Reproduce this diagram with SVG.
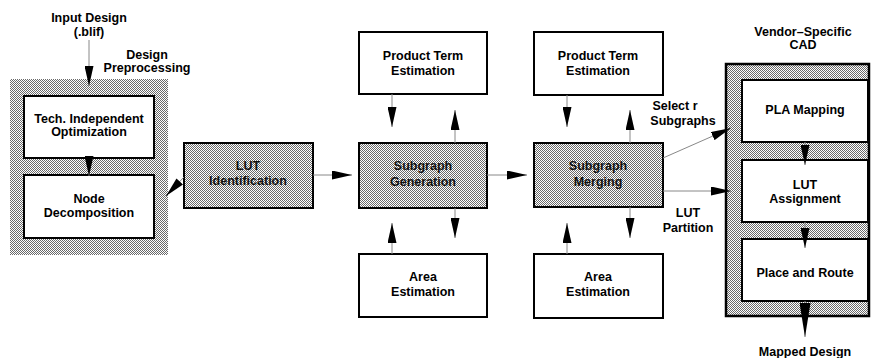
<svg xmlns="http://www.w3.org/2000/svg" width="871" height="358" viewBox="0 0 871 358">
  <style>
    text { font-family: "Liberation Sans", Arial, sans-serif; font-weight: bold; font-size: 12.5px; text-anchor: middle; fill: #000; }
    .box { fill: #fff; stroke: #000; stroke-width: 2; }
    .dbox { fill: url(#dots); stroke: #000; stroke-width: 2; }
    .wrap { fill: url(#dots); stroke: none; }
    .wrapb { fill: url(#dots); stroke: #000; stroke-width: 2.5; }
    .link { stroke: #888; stroke-width: 1; fill: none; marker-end: url(#head); }
    .shaded { fill: #111; }
  </style>
  <defs>
    <pattern id="dots" width="2" height="2" patternUnits="userSpaceOnUse">
      <rect width="2" height="2" fill="#fff"/>
      <rect x="0" y="0" width="1" height="1" fill="#6a6a6a"/>
      <rect x="1" y="1" width="1" height="1" fill="#6a6a6a"/>
    </pattern>
    <marker id="head" markerUnits="userSpaceOnUse" markerWidth="21" markerHeight="9" refX="20" refY="4.5" orient="auto">
      <path d="M0,0 L20,4.5 L0,9 Z" fill="#000"/>
    </marker>
    <marker id="bighead" markerUnits="userSpaceOnUse" markerWidth="35" markerHeight="11" refX="34" refY="5.5" orient="auto">
      <path d="M0,0 L34,5.5 L0,11 Z" fill="#000"/>
    </marker>
  </defs>

  <!-- Design preprocessing stage -->
  <g id="preprocessing">
    <rect class="wrap" x="10" y="79" width="158" height="176"/>
    <text x="89" y="22">Input Design</text>
    <text x="89" y="36">(.blif)</text>
    <text x="147" y="59">Design</text>
    <text x="147" y="72">Preprocessing</text>
  </g>
  <g id="tech-independent">
    <rect class="box" x="24" y="96" width="130" height="62"/>
    <text x="89" y="123">Tech. Independent</text>
    <text x="89" y="136">Optimization</text>
  </g>
  <g id="node-decomposition">
    <rect class="box" x="24" y="175" width="130" height="63"/>
    <text x="89" y="203">Node</text>
    <text x="89" y="217">Decomposition</text>
  </g>

  <g id="lut-identification">
    <rect class="dbox" x="184" y="143" width="129" height="65"/>
    <text class="shaded" x="248" y="170">LUT</text>
    <text class="shaded" x="248" y="185">Identification</text>
  </g>

  <!-- Subgraph generation column -->
  <g id="pt-estimation-1">
    <rect class="box" x="359" y="32" width="128" height="62"/>
    <text x="423" y="60">Product Term</text>
    <text x="423" y="75">Estimation</text>
  </g>
  <g id="subgraph-generation">
    <rect class="dbox" x="359" y="143" width="128" height="65"/>
    <text class="shaded" x="423" y="170">Subgraph</text>
    <text class="shaded" x="423" y="186">Generation</text>
  </g>
  <g id="area-estimation-1">
    <rect class="box" x="359" y="254" width="128" height="63"/>
    <text x="423" y="281">Area</text>
    <text x="423" y="296">Estimation</text>
  </g>

  <!-- Subgraph merging column -->
  <g id="pt-estimation-2">
    <rect class="box" x="534" y="32" width="129" height="63"/>
    <text x="598" y="60">Product Term</text>
    <text x="598" y="75">Estimation</text>
  </g>
  <g id="subgraph-merging">
    <rect class="dbox" x="534" y="143" width="129" height="64"/>
    <text class="shaded" x="598" y="170">Subgraph</text>
    <text class="shaded" x="598" y="186">Merging</text>
  </g>
  <g id="area-estimation-2">
    <rect class="box" x="534" y="254" width="129" height="64"/>
    <text x="598" y="281">Area</text>
    <text x="598" y="296">Estimation</text>
  </g>

  <!-- Vendor-specific CAD stage -->
  <g id="vendor-cad">
    <rect class="wrapb" x="726" y="64" width="143" height="252"/>
    <text x="803" y="36">Vendor–Specific</text>
    <text x="803" y="49">CAD</text>
    <text x="805" y="356">Mapped Design</text>
  </g>
  <g id="pla-mapping">
    <rect class="box" x="742" y="80" width="126" height="62"/>
    <text x="805" y="114">PLA Mapping</text>
  </g>
  <g id="lut-assignment">
    <rect class="box" x="742" y="160" width="126" height="62"/>
    <text x="805" y="189">LUT</text>
    <text x="805" y="203">Assignment</text>
  </g>
  <g id="place-route">
    <rect class="box" x="742" y="239" width="126" height="62"/>
    <text x="805" y="277">Place and Route</text>
  </g>

  <g id="connectors">
    <line class="link" x1="89" y1="40" x2="89" y2="86"/>
    <line class="link" x1="89" y1="158" x2="89" y2="176"/>
    <line class="link" x1="184" y1="177" x2="166" y2="196"/>
    <line class="link" x1="313" y1="175" x2="352" y2="175"/>

    <line class="link" x1="392" y1="94" x2="392" y2="127"/>
    <line class="link" x1="455" y1="143" x2="455" y2="110"/>
    <line class="link" x1="455" y1="208" x2="455" y2="238"/>
    <line class="link" x1="392" y1="254" x2="392" y2="223"/>

    <line class="link" x1="487" y1="175" x2="527" y2="175"/>

    <line class="link" x1="567" y1="95" x2="567" y2="127"/>
    <line class="link" x1="630" y1="143" x2="630" y2="110"/>
    <line class="link" x1="630" y1="207" x2="630" y2="238"/>
    <line class="link" x1="567" y1="254" x2="567" y2="223"/>

    <line class="link" x1="663" y1="158" x2="731" y2="128"/>
    <line class="link" x1="663" y1="191" x2="731" y2="191"/>
    <text x="675" y="110">Select r</text>
    <text x="683" y="125">Subgraphs</text>
    <text x="688" y="217">LUT</text>
    <text x="688" y="232">Partition</text>

    <line class="link" x1="805" y1="142" x2="805" y2="165"/>
    <line class="link" x1="805" y1="222" x2="805" y2="248"/>
    <line class="link" x1="805" y1="301" x2="805" y2="337" style="marker-end:url(#bighead)"/>
  </g>
</svg>
